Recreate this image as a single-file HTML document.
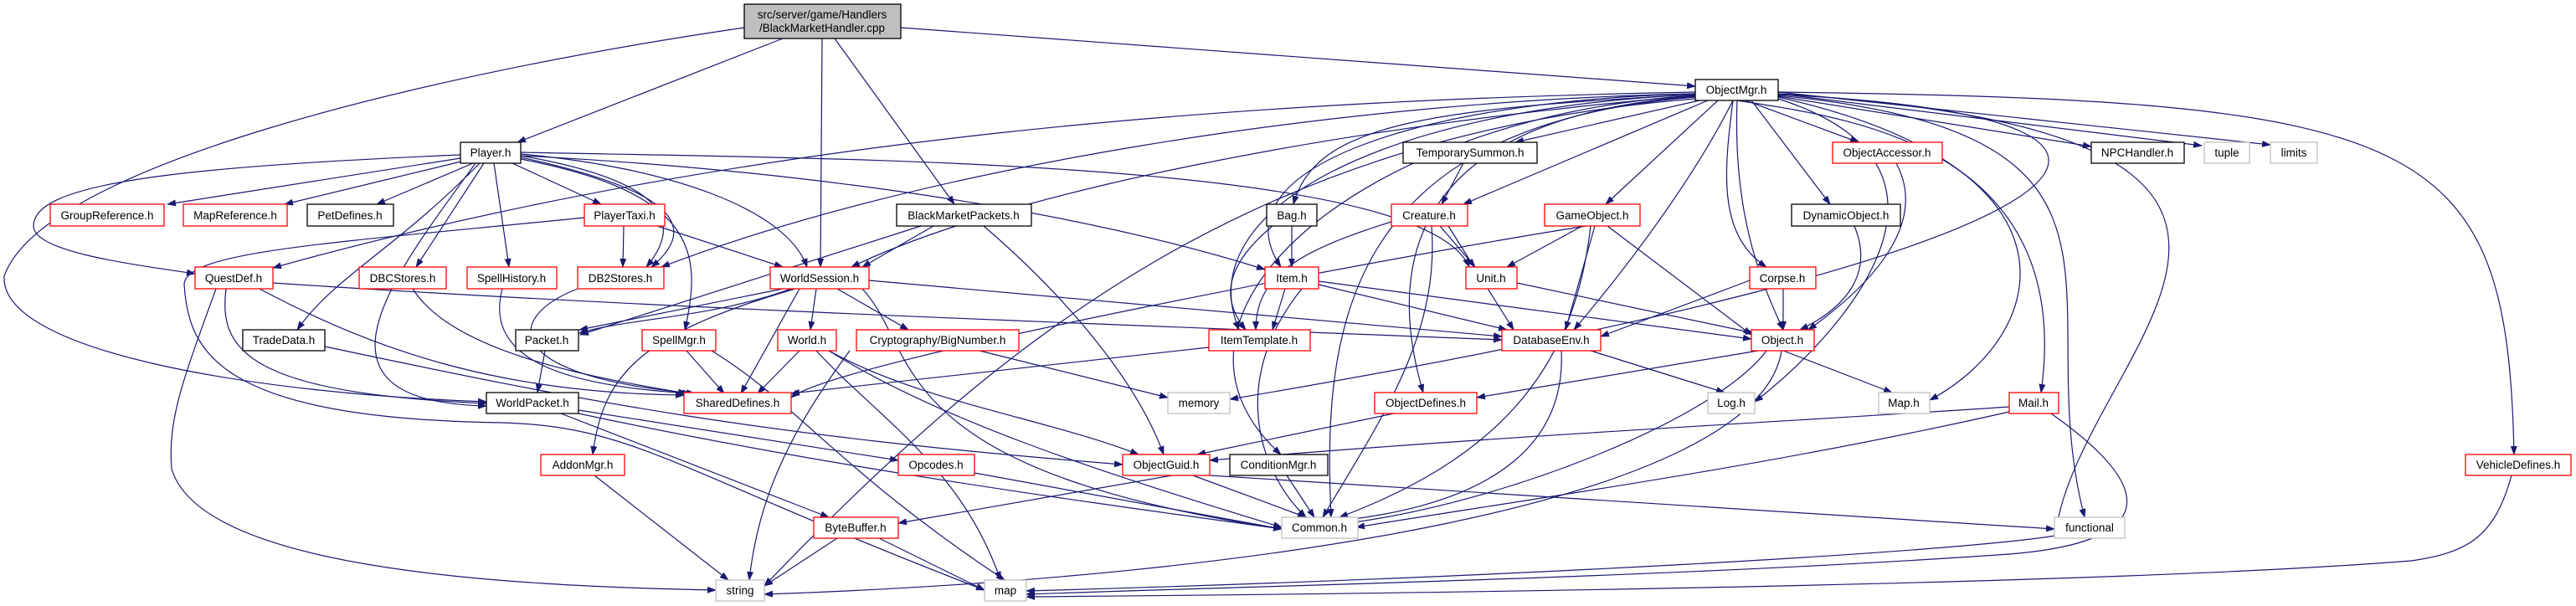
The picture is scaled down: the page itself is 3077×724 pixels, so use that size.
<!DOCTYPE html>
<html><head><meta charset="utf-8"><style>
html,body{margin:0;padding:0;background:#fff;}
svg{display:block;}
text{font-family:"Liberation Sans",sans-serif;font-size:13.5px;fill:#000;text-anchor:middle;}
.e{fill:none;stroke:#191970;stroke-width:1.2;marker-end:url(#a);}
.r{fill:#fff;stroke:#ff0000;stroke-width:1.3;}
.b{fill:#fff;stroke:#000;stroke-width:1.3;}
.g{fill:#fff;stroke:#bfbfbf;stroke-width:1.3;}
</style></head><body>
<svg width="3077" height="724" viewBox="0 0 3077 724" xmlns="http://www.w3.org/2000/svg">
<defs><marker id="a" markerWidth="11" markerHeight="8" refX="10" refY="4" orient="auto" markerUnits="userSpaceOnUse"><path d="M0,0 L11,4 L0,8 z" fill="#191970"/></marker></defs>
<g>
<!-- top node -->
<path class="e" d="M935,46 L618,170"/>
<path class="e" d="M982,46 L980,319"/>
<path class="e" d="M997,46 L1140,244"/>
<path class="e" d="M1076,33 L2025,103"/>
<path class="e" d="M889,33 C500,90 50,200 5,330 C0,420 300,470 581,480"/>
<!-- Player.h -->
<path class="e" d="M550,189 L200,244"/>
<path class="e" d="M555,192 L340,244"/>
<path class="e" d="M565,195 L450,244"/>
<path class="e" d="M612,195 L718,244"/>
<path class="e" d="M550,185 C200,200 40,220 40,270 C40,300 150,315 233,327"/>
<path class="e" d="M578,195 L497,319"/>
<path class="e" d="M590,195 L608,319"/>
<path class="e" d="M622,186 C760,210 830,250 772,319"/>
<path class="e" d="M622,188 C770,220 850,260 778,319"/>
<path class="e" d="M622,184 C800,200 940,250 964,319"/>
<path class="e" d="M573,195 C470,300 400,330 355,394"/>
<path class="e" d="M622,190 C830,230 840,300 818,394"/>
<path class="e" d="M622,186 C900,200 1250,240 1511,322"/>
<path class="e" d="M622,182 C1000,190 1700,190 1755,319"/>
<path class="e" d="M568,195 C470,330 350,480 581,485"/>
<!-- PlayerTaxi -->
<path class="e" d="M745,270 L744,319"/>
<path class="e" d="M785,270 L935,319"/>
<path class="e" d="M698,260 C400,290 220,300 220,340 C225,420 260,500 600,505 C760,510 800,560 1176,705"/>
<!-- QuestDef -->
<path class="e" d="M258,345 C220,450 200,500 205,560 C240,680 600,700 855,705"/>
<path class="e" d="M270,345 C260,420 300,470 581,482"/>
<path class="e" d="M310,345 C450,420 600,470 817,472"/>
<path class="e" d="M326,338 C800,370 1400,390 1794,406"/>
<path class="e" d="M493,345 C540,420 700,450 820,470"/>
<path class="e" d="M600,345 C580,420 650,460 825,470"/>
<path class="e" d="M690,345 C600,380 600,450 830,470"/>
<!-- WorldSession -->
<path class="e" d="M935,345 L692,394"/>
<path class="e" d="M945,345 C850,380 750,380 692,398"/>
<path class="e" d="M955,345 L885,470"/>
<path class="e" d="M975,345 L968,394"/>
<path class="e" d="M1000,345 L1085,394"/>
<path class="e" d="M950,345 C760,400 720,450 708,543"/>
<path class="e" d="M1038,335 L1794,402"/>
<path class="e" d="M1030,345 C1100,420 1050,560 1531,632"/>
<!-- TradeData etc -->
<path class="e" d="M388,414 C700,480 900,520 1341,555"/>
<path class="e" d="M651,419 L642,469"/>
<path class="e" d="M820,419 L865,470"/>
<path class="e" d="M850,419 C950,480 1000,560 1200,693"/>
<path class="e" d="M955,419 L905,470"/>
<path class="e" d="M990,419 C1100,480 1250,500 1360,543"/>
<path class="e" d="M990,419 C1120,500 1300,560 1531,630"/>
<path class="e" d="M975,419 C1050,500 1150,560 1195,693"/>
<path class="e" d="M1015,419 C940,520 905,600 895,693"/>
<path class="e" d="M1170,419 L1395,475"/>
<!-- WorldPacket -->
<path class="e" d="M691,490 L1073,550"/>
<path class="e" d="M691,494 C1000,560 1300,600 1531,632"/>
<path class="e" d="M670,494 L990,618"/>
<!-- AddonMgr, ByteBuffer -->
<path class="e" d="M710,568 L870,693"/>
<path class="e" d="M1000,643 L913,700"/>
<path class="e" d="M1050,643 L1176,705"/>
<!-- BlackMarketPackets -->
<path class="e" d="M1115,270 L1030,319"/>
<path class="e" d="M1100,270 L693,400"/>
<path class="e" d="M1175,270 C1280,360 1360,460 1390,543"/>
<!-- ObjectMgr -->
<path class="e" d="M2025,110 C1500,120 900,160 326,320"/>
<path class="e" d="M2025,112 C1600,120 1100,200 790,319"/>
<path class="e" d="M2025,114 C1600,150 1200,230 1017,319"/>
<path class="e" d="M2025,112 C1700,120 1450,200 1530,319"/>
<path class="e" d="M2025,113 C1650,130 1420,250 1480,394"/>
<path class="e" d="M2025,113 C1700,130 1570,150 1545,244"/>
<path class="e" d="M2030,120 L1810,170"/>
<path class="e" d="M2040,120 L1748,244"/>
<path class="e" d="M2052,120 L1918,244"/>
<path class="e" d="M2070,120 C2030,200 1960,300 1880,394"/>
<path class="e" d="M2075,120 C2070,250 2100,330 2130,394"/>
<path class="e" d="M2085,120 L2220,170"/>
<path class="e" d="M2092,120 L2186,244"/>
<path class="e" d="M2070,120 C2060,200 2050,280 2110,319"/>
<path class="e" d="M2124,115 L2498,175"/>
<path class="e" d="M2124,112 L2630,174"/>
<path class="e" d="M2124,110 L2712,173"/>
<path class="e" d="M2025,115 C1700,140 1650,300 1700,469"/>
<path class="e" d="M2025,114 C1620,140 1350,380 1530,543"/>
<path class="e" d="M2025,116 C1600,150 1580,400 1590,618"/>
<path class="e" d="M2025,118 C1500,160 1200,400 913,700"/>
<path class="e" d="M2124,118 C2380,200 2200,400 2096,480"/>
<path class="e" d="M2124,116 C2500,200 2450,400 2305,478"/>
<path class="e" d="M2075,120 C2200,140 2480,170 2438,469"/>
<path class="e" d="M2124,114 C2600,160 2420,350 2490,618"/>
<path class="e" d="M2124,112 C2900,160 2480,420 2455,640 C2330,660 1800,690 1226,706"/>
<path class="e" d="M2124,110 C2900,120 2995,160 3003,543"/>
<path class="e" d="M2124,113 C2700,140 2520,300 1469,477"/>
<!-- misc -->
<path class="e" d="M1748,195 L1722,244"/>
<path class="e" d="M1543,270 L1543,319"/>
<path class="e" d="M1520,270 C1460,320 1460,360 1488,394"/>
<path class="e" d="M1662,265 C1550,300 1500,330 1500,394"/>
<path class="e" d="M1720,270 L1762,319"/>
<path class="e" d="M1730,270 L1808,394"/>
<path class="e" d="M1710,270 C1720,400 1650,500 1580,618"/>
<path class="e" d="M1890,270 L1800,319"/>
<path class="e" d="M1905,270 L1870,394"/>
<path class="e" d="M1920,270 L2092,400"/>
<path class="e" d="M1900,270 C1880,450 1780,550 1600,618"/>
<path class="e" d="M1895,270 C1700,300 1000,430 945,475"/>
<path class="e" d="M1535,345 L1520,394"/>
<path class="e" d="M1575,340 L1800,394"/>
<path class="e" d="M1575,336 L2092,405"/>
<path class="e" d="M1555,345 C1470,450 1500,560 1560,618"/>
<path class="e" d="M1812,338 L2095,398"/>
<path class="e" d="M1444,415 L945,470"/>
<path class="e" d="M1900,419 L2060,469"/>
<path class="e" d="M1865,419 C1870,520 1800,600 1600,622"/>
<path class="e" d="M1665,494 L1430,543"/>
<path class="e" d="M2100,419 L1764,475"/>
<path class="e" d="M2130,419 L2260,469"/>
<path class="e" d="M2110,419 C2050,500 1800,600 1610,625"/>
<path class="e" d="M2128,419 C2100,600 1500,690 913,710"/>
<path class="e" d="M2265,195 C2300,260 2250,330 2160,394"/>
<path class="e" d="M2215,270 C2240,330 2200,370 2150,394"/>
<path class="e" d="M2130,345 L2130,394"/>
<path class="e" d="M2090,335 L1912,402"/>
<path class="e" d="M2400,486 C2200,500 1800,520 1445,550"/>
<path class="e" d="M2400,492 C2100,560 1800,600 1620,630"/>
<path class="e" d="M2450,494 C2600,600 2550,650 2400,662 C2000,690 1500,700 1226,710"/>
<path class="e" d="M1400,568 L1073,625"/>
<path class="e" d="M1425,568 L1560,618"/>
<path class="e" d="M1445,568 L2454,632"/>
<path class="e" d="M1164,565 L1531,632"/>
<path class="e" d="M1537,568 L1570,618"/>
<path class="e" d="M3000,568 C2980,640 2950,660 2880,670 C2500,700 1600,710 1226,713"/>
</g>
<g>
<rect x="889" y="5" width="187" height="41" fill="#bfbfbf" stroke="#000" stroke-width="1.3"/>
<text x="982" y="22">src/server/game/Handlers</text><text x="982" y="38">/BlackMarketHandler.cpp</text>
<rect class="b" x="550" y="170" width="72" height="25"/><text x="586" y="187">Player.h</text>
<rect class="r" x="60" y="244" width="136" height="26"/><text x="128" y="262">GroupReference.h</text>
<rect class="r" x="219" y="244" width="124" height="26"/><text x="281" y="262">MapReference.h</text>
<rect class="b" x="367" y="244" width="103" height="26"/><text x="418" y="262">PetDefines.h</text>
<rect class="r" x="698" y="244" width="96" height="26"/><text x="746" y="262">PlayerTaxi.h</text>
<rect class="r" x="233" y="319" width="93" height="26"/><text x="279" y="337">QuestDef.h</text>
<rect class="r" x="429" y="319" width="104" height="26"/><text x="481" y="337">DBCStores.h</text>
<rect class="r" x="558" y="319" width="107" height="26"/><text x="611" y="337">SpellHistory.h</text>
<rect class="r" x="690" y="319" width="103" height="26"/><text x="741" y="337">DB2Stores.h</text>
<rect class="r" x="920" y="319" width="118" height="26"/><text x="979" y="337">WorldSession.h</text>
<rect class="b" x="290" y="394" width="98" height="25"/><text x="339" y="411">TradeData.h</text>
<rect class="b" x="616" y="394" width="75" height="25"/><text x="653" y="411">Packet.h</text>
<rect class="r" x="767" y="394" width="88" height="25"/><text x="811" y="411">SpellMgr.h</text>
<rect class="r" x="929" y="394" width="70" height="25"/><text x="964" y="411">World.h</text>
<rect class="r" x="1023" y="394" width="194" height="25"/><text x="1120" y="411">Cryptography/BigNumber.h</text>
<rect class="b" x="581" y="469" width="110" height="25"/><text x="636" y="486">WorldPacket.h</text>
<rect class="r" x="817" y="469" width="128" height="25"/><text x="881" y="486">SharedDefines.h</text>
<rect class="r" x="646" y="543" width="100" height="25"/><text x="696" y="560">AddonMgr.h</text>
<rect class="r" x="972" y="618" width="101" height="25"/><text x="1022" y="635">ByteBuffer.h</text>
<rect class="g" x="855" y="693" width="58" height="25"/><text x="884" y="710">string</text>
<rect class="b" x="2025" y="95" width="99" height="25"/><text x="2074" y="112">ObjectMgr.h</text>
<rect class="b" x="1676" y="170" width="160" height="25"/><text x="1756" y="187">TemporarySummon.h</text>
<rect class="b" x="1071" y="244" width="161" height="26"/><text x="1151" y="262">BlackMarketPackets.h</text>
<rect class="b" x="1513" y="244" width="60" height="26"/><text x="1543" y="262">Bag.h</text>
<rect class="r" x="1662" y="244" width="91" height="26"/><text x="1707" y="262">Creature.h</text>
<rect class="r" x="1845" y="244" width="114" height="26"/><text x="1902" y="262">GameObject.h</text>
<rect class="r" x="1511" y="319" width="64" height="26"/><text x="1543" y="337">Item.h</text>
<rect class="r" x="1751" y="319" width="61" height="26"/><text x="1781" y="337">Unit.h</text>
<rect class="r" x="1444" y="394" width="121" height="25"/><text x="1504" y="411">ItemTemplate.h</text>
<rect class="r" x="1794" y="394" width="118" height="25"/><text x="1853" y="411">DatabaseEnv.h</text>
<rect class="g" x="1395" y="469" width="74" height="25"/><text x="1432" y="486">memory</text>
<rect class="r" x="1642" y="469" width="122" height="25"/><text x="1703" y="486">ObjectDefines.h</text>
<rect class="g" x="2040" y="469" width="56" height="25"/><text x="2068" y="486">Log.h</text>
<rect class="r" x="1073" y="543" width="91" height="25"/><text x="1118" y="560">Opcodes.h</text>
<rect class="r" x="1341" y="543" width="104" height="25"/><text x="1393" y="560">ObjectGuid.h</text>
<rect class="b" x="1469" y="543" width="117" height="25"/><text x="1527" y="560">ConditionMgr.h</text>
<rect class="g" x="1531" y="618" width="91" height="25"/><text x="1576" y="635">Common.h</text>
<rect class="g" x="1176" y="693" width="50" height="25"/><text x="1201" y="710">map</text>
<rect class="r" x="2189" y="170" width="131" height="25"/><text x="2254" y="187">ObjectAccessor.h</text>
<rect class="b" x="2498" y="170" width="111" height="25"/><text x="2553" y="187">NPCHandler.h</text>
<rect class="g" x="2633" y="170" width="54" height="25"/><text x="2660" y="187">tuple</text>
<rect class="g" x="2712" y="170" width="56" height="25"/><text x="2740" y="187">limits</text>
<rect class="b" x="2140" y="244" width="130" height="26"/><text x="2205" y="262">DynamicObject.h</text>
<rect class="r" x="2090" y="319" width="79" height="26"/><text x="2129" y="337">Corpse.h</text>
<rect class="r" x="2092" y="394" width="75" height="25"/><text x="2129" y="411">Object.h</text>
<rect class="g" x="2244" y="469" width="61" height="25"/><text x="2274" y="486">Map.h</text>
<rect class="r" x="2400" y="469" width="59" height="25"/><text x="2429" y="486">Mail.h</text>
<rect class="r" x="2945" y="543" width="126" height="25"/><text x="3008" y="560">VehicleDefines.h</text>
<rect class="g" x="2454" y="618" width="84" height="25"/><text x="2496" y="635">functional</text>
</g>
</svg>
</body></html>
